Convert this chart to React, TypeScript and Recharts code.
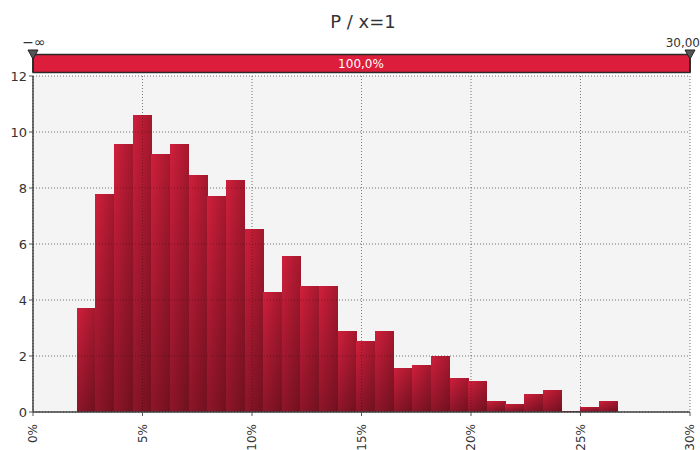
import { ComposedChart, XAxis, YAxis, CartesianGrid, ReferenceArea, Line } from 'recharts'

// bin edges in %, counts
const BIN_START = 2.0
const BIN_WIDTH = 0.851
const COUNTS = [
  3.7, 7.77, 9.56, 10.6, 9.2, 9.56, 8.48, 7.7, 8.27, 6.52,
  4.27, 5.56, 4.49, 4.49, 2.88, 2.54, 2.88, 1.57, 1.68, 2.0,
  1.21, 1.11, 0.39, 0.29, 0.64, 0.79, 0.04, 0.18, 0.39,
]
const X_TICKS = [0, 5, 10, 15, 20, 25, 30]
const Y_TICKS = [0, 2, 4, 6, 8, 10, 12]
const TITLE = 'P / x=1'
const BAND_LABEL = '100,0%'
const LEFT_MARK = '\u2212\u221e'
const RIGHT_MARK = '30,00'

const FONT = '"DejaVu Sans", Verdana, sans-serif'
const INK = '#333'

const bins = COUNTS.map((v, i) => ({
  x0: BIN_START + i * BIN_WIDTH,
  x1: BIN_START + (i + 1) * BIN_WIDTH,
  mid: BIN_START + (i + 0.5) * BIN_WIDTH,
  v,
}))

// bar with a left→right shading plus a darker bottom, like the original
function BinShape(props: { x?: number; y?: number; width?: number; height?: number }) {
  const { x = 0, y = 0, width = 0, height = 0 } = props
  return (
    <g shapeRendering="crispEdges">
      <rect x={x} y={y} width={width + 0.5} height={height} fill="url(#binH)" />
      <rect x={x} y={y} width={width + 0.5} height={height} fill="url(#binV)" />
    </g>
  )
}

function XTick(props: { x?: number; y?: number; payload?: { value: number } }) {
  const { x = 0, y = 0, payload } = props
  if (!payload) return null
  return (
    <g transform={`translate(${x},${y + 6})`}>
      <text transform="rotate(-90)" textAnchor="end" dy={4} fontSize={12} fill={INK} fontFamily={FONT}>
        {payload.value}%
      </text>
    </g>
  )
}

function Marker({ left }: { left: number }) {
  return (
    <g>
      <line x1={left} y1={50} x2={left} y2={72} stroke="#222" strokeWidth={1.5} />
      <path d={`M${left - 5},50 L${left + 5},50 L${left},59 Z`} fill="#555" stroke="#222" strokeWidth={1} />
    </g>
  )
}

export default function App() {
  return (
    <div style={{ position: 'absolute', left: 0, top: 0, width: 700, height: 450, background: '#fff', fontFamily: FONT }}>
      <svg width={700} height={80} style={{ position: 'absolute', left: 0, top: 0 }}>
        <text x={363} y={28} textAnchor="middle" fontSize={18} fill={INK} fontFamily={FONT}>{TITLE}</text>
        <rect x={33} y={54.5} width={657} height={18} fill="#dc1e3c" stroke="#2a2a2a" strokeWidth={1.5} />
        <text x={361} y={68} textAnchor="middle" fontSize={12} fill="#fff" fontFamily={FONT}>{BAND_LABEL}</text>
        <text x={34} y={47} textAnchor="middle" fontSize={14} fill={INK} fontFamily={FONT}>{LEFT_MARK}</text>
        <text x={700} y={47} textAnchor="end" fontSize={12} fill={INK} fontFamily={FONT}>{RIGHT_MARK}</text>
        <Marker left={33} />
        <Marker left={690} />
      </svg>
      <ComposedChart
        width={700}
        height={450}
        data={bins}
        margin={{ top: 76, right: 10, left: 3, bottom: 2 }}
        style={{ position: 'absolute', left: 0, top: 0 }}
      >
        <defs>
          <linearGradient id="binH" x1="0" y1="0" x2="1" y2="0">
            <stop offset="0%" stopColor="#d01f3c" />
            <stop offset="100%" stopColor="#a3182d" />
          </linearGradient>
          <linearGradient id="binV" x1="0" y1="0" x2="0" y2="1">
            <stop offset="0%" stopColor="#000" stopOpacity={0} />
            <stop offset="100%" stopColor="#000" stopOpacity={0.32} />
          </linearGradient>
        </defs>
        <CartesianGrid fill="#f3f4f3" stroke="#aaa" strokeDasharray="1 2" />
        <XAxis
          type="number"
          dataKey="mid"
          domain={[0, 30]}
          ticks={X_TICKS}
          interval={0}
          height={36}
          tickLine={{ stroke: '#555' }}
          tickSize={4}
          axisLine={{ stroke: '#444', strokeWidth: 1.5 }}
          tick={<XTick />}
        />
        <YAxis
          type="number"
          domain={[0, 12]}
          ticks={Y_TICKS}
          interval={0}
          width={30}
          tickSize={4}
          tickLine={{ stroke: '#555' }}
          axisLine={{ stroke: '#444', strokeWidth: 1.5 }}
          tick={{ fill: INK, fontSize: 13, fontFamily: FONT }}
        />
        <YAxis
          yAxisId="r"
          orientation="right"
          type="number"
          domain={[0, 12]}
          ticks={Y_TICKS}
          width={0}
          tick={false}
          tickLine={false}
          axisLine={{ stroke: '#333', strokeWidth: 2 }}
        />
        {bins.map((b) => (
          <ReferenceArea
            key={b.x0}
            x1={b.x0}
            x2={b.x1}
            y1={0}
            y2={b.v}
            fillOpacity={1}
            stroke="none"
            ifOverflow="visible"
            shape={<BinShape />}
          />
        ))}
        <CartesianGrid fill="none" stroke="rgba(0,0,0,0.28)" strokeDasharray="1 2" zIndex={1000} />
        <Line dataKey="v" stroke="none" dot={false} activeDot={false} isAnimationActive={false} />
      </ComposedChart>
    </div>
  )
}
